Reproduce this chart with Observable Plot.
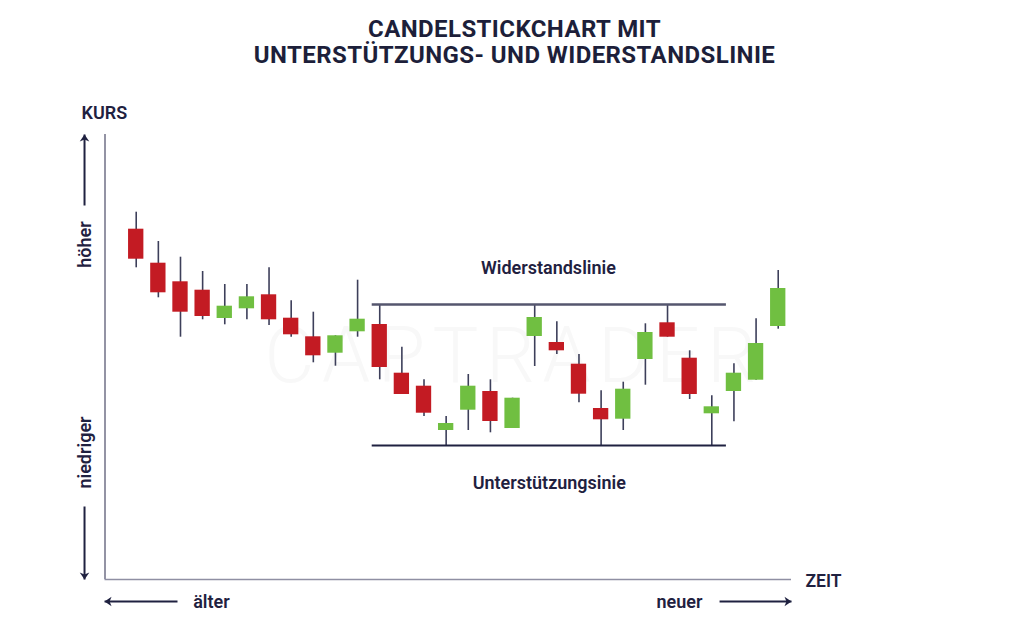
<!DOCTYPE html>
<html lang="de">
<head>
<meta charset="utf-8">
<script src="https://cdn.jsdelivr.net/npm/d3@7"></script>
<script src="https://cdn.jsdelivr.net/npm/@observablehq/plot@0.6"></script>
<style>
html,body{margin:0;padding:0;background:#fff;width:1024px;height:624px;overflow:hidden}
#title{height:84px;box-sizing:border-box;padding-top:16px;padding-left:5px;text-align:center;font:700 24px/26px Roboto,sans-serif;color:#1d1f3a;letter-spacing:.42px}
svg{display:block}
.wm text{letter-spacing:7.5px}
</style>
</head>
<body>
<div id="title">CANDELSTICKCHART MIT<br>UNTERSTÜTZUNGS- UND WIDERSTANDSLINIE</div>
<div id="chart"></div>
<script>
const direction = ["d","d","d","d","u","u","d","d","d","u","u","d","d","d","u","u","d","u","u","d","d","d","u","u","d","d","u","u","u","u"];
const high  = [367.3,338,322.3,308,295,295,311.7,278.7,267.3,243.7,299.3,275,232.3,199.7,163,205,199.7,181.3,275,257.7,225,188.7,197.3,255.7,275,228.7,183.7,215.7,260.7,309];
const low   = [311.7,281.7,242.3,259.7,254.7,259.7,254,242.3,216.7,213.3,242.3,199.7,185,163,134,149,146.7,151,213,225,176.7,134,149,194.3,242.3,180,134,157.7,199.3,250.3];
const top_  = [350.3,316.3,297.7,289.3,273.3,282.7,284.7,261.3,242.7,243.7,260.3,255,206.3,193.3,156,193.3,188,181.3,262,237,215.3,171,190.3,247,256.7,221.3,172.7,206.3,236,291];
const bot   = [320.3,286.7,267.3,263,261,270.7,259.7,244.7,223.7,226.3,247.7,212,185,166.3,149,169.3,158,151,243,228.7,185.3,159.7,160.3,220,242.3,185,165.7,188,199.3,253];
const resistance = 275, support = 134;
const levelSpan = [10.66, 26.66];
const candles = direction.map((dir,i)=>({i,dir,high:high[i],low:low[i],top:top_[i],bot:bot[i]}));

const ink = "#1f2140", wick = "#3d3f5a", axisC = "#6f6f86";
const red = "#c31b23", green = "#70bf41";
const halfBody = 0.346;

// arrow head whose tip sits on the anchor point
const head = a => ({draw(c){
  const L=7, w=4.8, cos=Math.cos(a), sin=Math.sin(a);
  const p=(x,y)=>[x*cos-y*sin,x*sin+y*cos];
  const pts=[p(0,0),p(w,L),p(0,L*.72),p(-w,L)];
  c.moveTo(...pts[0]);pts.slice(1).forEach(q=>c.lineTo(...q));c.closePath();
}});

const label = (txt,x,y,o={}) => Plot.text([txt],{x:()=>x,y:()=>y,text:d=>d,fontFamily:"Roboto, sans-serif",fontWeight:600,fontSize:18,fill:ink,...o});
const arrow = (x1,y1,x2,y2,ang) => [
  Plot.link([0],{x1:()=>x1,y1:()=>y1,x2:()=>x2,y2:()=>y2,stroke:ink,strokeWidth:2}),
  Plot.dot([0],{x:()=>x2,y:()=>y2,symbol:head(ang),r:5,fill:ink,stroke:"none"})
];

const plot = Plot.plot({
  width:1024, height:540,
  margin:0,
  x:{domain:[-1.41,29.6],range:[104.5,791],axis:null},
  y:{domain:[0,445],range:[495,50],axis:null},
  marks:[
    Plot.text(["CAPTRADER"],{x:()=>17.07,y:()=>222,text:d=>d,fontFamily:"Roboto, sans-serif",fontWeight:300,fontSize:77,fill:"#f8f8f8",className:"wm"}),
    Plot.ruleX([-1.41],{y1:0,y2:445,stroke:axisC,strokeWidth:1.5}),
    Plot.ruleY([0],{x1:-1.41,x2:29.6,stroke:"#8f8fa3",strokeWidth:1.5}),
    Plot.ruleX(candles,{x:"i",y1:"low",y2:"high",stroke:wick,strokeWidth:1.6}),
    Plot.ruleY([resistance],{x1:levelSpan[0],x2:levelSpan[1],stroke:"#55566e",strokeWidth:2.6}),
    Plot.ruleY([support],{x1:levelSpan[0],x2:levelSpan[1],stroke:ink,strokeWidth:2}),
    Plot.rect(candles,{x1:d=>d.i-halfBody,x2:d=>d.i+halfBody,y1:"bot",y2:"top",fill:d=>d.dir==="u"?green:red}),
    ...arrow(-2.335,374,-2.335,445,0),
    ...arrow(-2.335,73,-2.335,0,Math.PI),
    ...arrow(1.865,-22,-1.43,-22,-Math.PI/2),
    ...arrow(26.35,-22,29.6,-22,Math.PI/2),
    label("KURS",-2.47,466,{textAnchor:"start"}),
    label("ZEIT",30.23,-2,{textAnchor:"start",fontSize:17.5}),
    label("höher",-2.29,335,{rotate:-90}),
    label("niedriger",-2.29,127,{rotate:-90}),
    label("älter",3.4,-23),
    label("neuer",24.54,-23),
    label("Widerstandslinie",18.62,311),
    label("Unterstützungsinie",18.66,96)
  ]
});
document.getElementById("chart").append(plot);
</script>
</body>
</html>
